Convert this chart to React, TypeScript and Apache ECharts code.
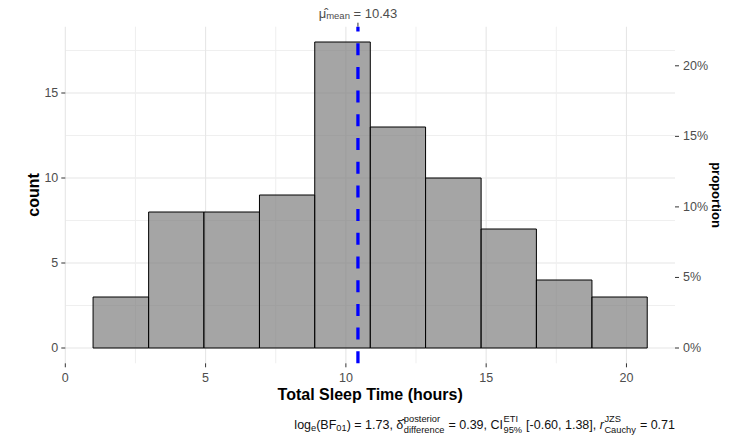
import React, { useEffect, useRef } from 'react';
import * as echarts from 'echarts';

// ---- data ----
const binEdges = [0.99, 2.97, 4.94, 6.92, 8.89, 10.87, 12.84, 14.82, 16.79, 18.77, 20.74];
const counts = [3, 8, 8, 9, 18, 13, 10, 7, 4, 3];
const meanValue = 10.43;
const meanLabel = '10.43';
const xTicks = [0, 5, 10, 15, 20];
const xMinor = [2.5, 7.5, 12.5, 17.5];
const yTicks = [0, 5, 10, 15];
const yMinor = [2.5, 7.5, 12.5, 17.5];
const propTicks = [0, 0.05, 0.1, 0.15, 0.2];
const xRange = [0, 21.73];
const yRange = [-0.9, 18.9];

const FONT = '"Liberation Sans", Arial, sans-serif';
const MAIN = 12.5;
const SMALL = 9.3;

type Piece = { t?: string; size: number; dy: number; italic?: boolean; stack?: [string, string] };

const captionPieces: Piece[] = [
  { t: 'log', size: MAIN, dy: 0 },
  { t: 'e', size: SMALL, dy: 3 },
  { t: '(BF', size: MAIN, dy: 0 },
  { t: '01', size: SMALL, dy: 3 },
  { t: ') = 1.73, ', size: MAIN, dy: 0 },
  { t: 'δ\u0302', size: MAIN, dy: 0 },
  { stack: ['posterior', 'difference'], size: SMALL, dy: 0 },
  { t: ' = 0.39, CI', size: MAIN, dy: 0 },
  { stack: ['ETI', '95%'], size: SMALL, dy: 0 },
  { t: ' [-0.60, 1.38], ', size: MAIN, dy: 0 },
  { t: 'r', size: MAIN, dy: 0, italic: true },
  { stack: ['JZS', 'Cauchy'], size: SMALL, dy: 0 },
  { t: ' = 0.71', size: MAIN, dy: 0 },
];

function buildCaption(rightGap: number, centerY: number) {
  const canvas = document.createElement('canvas');
  const ctx = canvas.getContext('2d')!;
  const measure = (s: string, size: number, italic?: boolean) => {
    ctx.font = `${italic ? 'italic ' : ''}${size}px ${FONT}`;
    return ctx.measureText(s).width;
  };
  const children: any[] = [];
  let x = 0;
  const mk = (text: string, px: number, py: number, size: number, italic?: boolean) => ({
    type: 'text',
    x: px,
    y: py,
    silent: true,
    style: {
      text,
      fill: '#111',
      fontSize: size,
      fontFamily: FONT,
      fontStyle: italic ? 'italic' : 'normal',
      align: 'left',
      verticalAlign: 'middle',
    },
  });
  for (const p of captionPieces) {
    if (p.stack) {
      const w = Math.max(measure(p.stack[0], p.size), measure(p.stack[1], p.size));
      children.push(mk(p.stack[0], x + 0.5, centerY - 6.5, p.size));
      children.push(mk(p.stack[1], x + 0.5, centerY + 4.5, p.size));
      x += w + 1;
    } else {
      const w = measure(p.t!, p.size, p.italic);
      children.push(mk(p.t!, x, centerY + p.dy, p.size, p.italic));
      x += w;
    }
  }
  return { type: 'group', right: rightGap, children };
}

export default function App() {
  const ref = useRef<HTMLDivElement>(null);
  useEffect(() => {
    if (!ref.current) return;
    const chart = echarts.init(ref.current, undefined, { renderer: 'svg' });
    const N = counts.reduce((a, b) => a + b, 0);
    const bars = counts.map((c, i) => [binEdges[i], binEdges[i + 1], c]);
    const hLines = [
      ...yTicks.map((v) => [xRange[0], v, 1]),
      ...yMinor.map((v) => [xRange[0], v, 0]),
    ];
    const vLines = [
      ...xTicks.map((v) => [v, yRange[0], 1]),
      ...xMinor.map((v) => [v, yRange[0], 0]),
    ];
    // side: 0 left, 1 right, 2 bottom, 3 top
    const tickMarks = [
      ...yTicks.map((v) => [xRange[0], v, 0]),
      ...propTicks.map((p) => [xRange[1], p * N, 1]),
      ...xTicks.map((v) => [v, yRange[0], 2]),
      [meanValue, yRange[1], 3],
    ];
    const labelStyle = { color: '#4d4d4d', fontSize: 12.5, fontFamily: FONT };
    const nameStyle = { fontWeight: 'bold', color: '#000', fontFamily: FONT };

    const option: any = {
      animation: false,
      grid: {
        left: 65.3,
        right: 54,
        top: 26.7,
        bottom: 72.7,
        containLabel: false,
        outerBoundsMode: 'none',
      },
      xAxis: [
        {
          type: 'value',
          position: 'bottom',
          min: xRange[0],
          max: xRange[1],
          interval: 5,
          axisLine: { show: false },
          axisTick: { show: false },
          minorTick: { show: false },
          axisLabel: { ...labelStyle, margin: 8, customValues: xTicks },
          splitLine: { show: false },
          minorSplitLine: { show: false },
          name: 'Total Sleep Time (hours)',
          nameLocation: 'middle',
          nameGap: 23,
          nameMoveOverlap: false,
          nameTextStyle: { ...nameStyle, fontSize: 16 },
        },
        {
          type: 'value',
          position: 'top',
          min: xRange[0],
          max: xRange[1],
          axisLine: { show: false },
          axisTick: { show: false },
          minorTick: { show: false },
          axisLabel: {
            margin: 6,
            customValues: [meanValue],
            formatter: () => `{mu|μ\u0302}{sub|mean}{eq| = ${meanLabel}}`,
            rich: {
              mu: { fontSize: 13, color: '#4d4d4d', fontFamily: FONT, lineHeight: 15 },
              sub: { fontSize: 9.5, color: '#4d4d4d', fontFamily: FONT, lineHeight: 15, verticalAlign: 'bottom' },
              eq: { fontSize: 13, color: '#4d4d4d', fontFamily: FONT, lineHeight: 15 },
            },
          },
          splitLine: { show: false },
          minorSplitLine: { show: false },
        },
      ],
      yAxis: [
        {
          type: 'value',
          position: 'left',
          min: yRange[0],
          max: yRange[1],
          axisLine: { show: false },
          axisTick: { show: false },
          minorTick: { show: false },
          axisLabel: { ...labelStyle, margin: 7, customValues: yTicks },
          splitLine: { show: false },
          minorSplitLine: { show: false },
          name: 'count',
          nameLocation: 'middle',
          nameRotate: 90,
          nameGap: 24,
          nameMoveOverlap: false,
          nameTextStyle: { ...nameStyle, fontSize: 16 },
        },
        {
          type: 'value',
          position: 'right',
          min: yRange[0] / N,
          max: yRange[1] / N,
          axisLine: { show: false },
          axisTick: { show: false },
          minorTick: { show: false },
          axisLabel: {
            ...labelStyle,
            margin: 8,
            customValues: propTicks,
            formatter: (v: number) => `${Math.round(v * 100)}%`,
          },
          splitLine: { show: false },
          minorSplitLine: { show: false },
          name: 'proportion',
          nameLocation: 'middle',
          nameRotate: -90,
          nameGap: 35,
          nameMoveOverlap: false,
          nameTextStyle: { ...nameStyle, fontSize: 13 },
        },
      ],
      series: [
        {
          type: 'custom',
          z: 1,
          silent: true,
          data: hLines,
          encode: { x: 0, y: 1 },
          renderItem: (params: any, api: any) => {
            const cs = params.coordSys;
            const p = api.coord([api.value(0), api.value(1)]);
            const major = api.value(2) === 1;
            return {
              type: 'line',
              shape: { x1: cs.x, y1: p[1], x2: cs.x + cs.width, y2: p[1] },
              style: { stroke: major ? '#e6e6e6' : '#efefef', lineWidth: major ? 1.1 : 1 },
            };
          },
        },
        {
          type: 'custom',
          z: 1,
          silent: true,
          data: vLines,
          encode: { x: 0, y: 1 },
          renderItem: (params: any, api: any) => {
            const cs = params.coordSys;
            const p = api.coord([api.value(0), api.value(1)]);
            const major = api.value(2) === 1;
            return {
              type: 'line',
              shape: { x1: p[0], y1: cs.y, x2: p[0], y2: cs.y + cs.height },
              style: { stroke: major ? '#e6e6e6' : '#efefef', lineWidth: major ? 1.1 : 1 },
            };
          },
        },
        {
          type: 'custom',
          z: 1,
          silent: true,
          clip: false,
          data: tickMarks,
          encode: { x: 0, y: 1 },
          renderItem: (params: any, api: any) => {
            const cs = params.coordSys;
            const p = api.coord([api.value(0), api.value(1)]);
            const side = api.value(2);
            const L = 4;
            let shape;
            if (side === 0) shape = { x1: cs.x - L, y1: p[1], x2: cs.x, y2: p[1] };
            else if (side === 1) shape = { x1: cs.x + cs.width, y1: p[1], x2: cs.x + cs.width + L, y2: p[1] };
            else if (side === 2) shape = { x1: p[0], y1: cs.y + cs.height, x2: p[0], y2: cs.y + cs.height + L };
            else shape = { x1: p[0], y1: cs.y - L, x2: p[0], y2: cs.y };
            return { type: 'line', shape, style: { stroke: '#333', lineWidth: 1 } };
          },
        },
        {
          type: 'custom',
          z: 2,
          silent: true,
          data: bars,
          encode: { x: [0, 1], y: 2 },
          renderItem: (params: any, api: any) => {
            const p0 = api.coord([api.value(0), api.value(2)]);
            const p1 = api.coord([api.value(1), 0]);
            return {
              type: 'rect',
              shape: { x: p0[0], y: p0[1], width: p1[0] - p0[0], height: p1[1] - p0[1] },
              style: { fill: 'rgba(127,127,127,0.7)', stroke: '#000', lineWidth: 1 },
            };
          },
        },
        {
          type: 'custom',
          z: 3,
          silent: true,
          data: [[meanValue, 0]],
          encode: { x: 0, y: 1 },
          renderItem: (params: any, api: any) => {
            const b = api.coord([api.value(0), yRange[0]]);
            const t = api.coord([api.value(0), yRange[1]]);
            return {
              type: 'line',
              shape: { x1: b[0], y1: b[1], x2: t[0], y2: t[1] },
              style: { stroke: '#0000ff', lineWidth: 3.3, lineDash: [12, 11.7] },
            };
          },
        },
      ],
      graphic: [buildCaption(54, 425)],
    };
    chart.setOption(option);
    return () => chart.dispose();
  }, []);
  return (
    <div
      ref={ref}
      style={{ position: 'fixed', left: 0, top: 0, width: 729, height: 436, background: '#fff' }}
    />
  );
}
